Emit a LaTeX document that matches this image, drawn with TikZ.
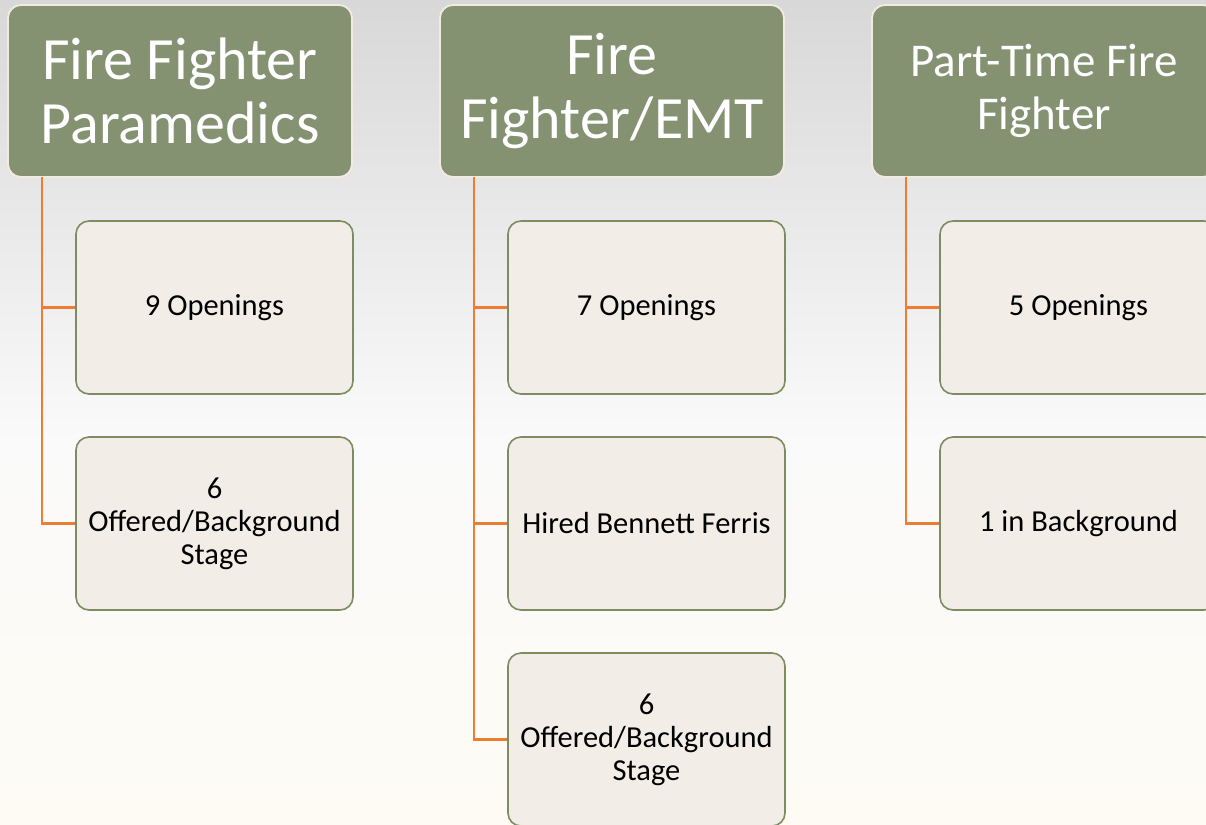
\documentclass[tikz,border=0pt]{standalone}
\usepackage{fontspec}
\setmainfont{Carlito}
\definecolor{hdrfill}{HTML}{849272}
\definecolor{hdredge}{HTML}{F2ECE0}
\definecolor{boxfill}{HTML}{F2EEE7}
\definecolor{boxedge}{HTML}{7E8C63}
\definecolor{conn}{HTML}{ED7D31}
\definecolor{bgtop}{HTML}{D8D8D8}
\definecolor{bgmid}{HTML}{FAFAFA}
\definecolor{bgbot}{HTML}{FDFBF4}
\tikzset{
  hdr/.style={draw=hdredge, line width=1.8pt, fill=hdrfill, rounded corners=13pt,
    minimum width=344pt, minimum height=172pt, inner sep=0pt, text=white,
    align=center, font=\fontsize{60}{64}\selectfont},
  hdrsmall/.style={hdr, font=\fontsize{47}{53}\selectfont},
  child/.style={draw=boxedge, line width=1.6pt, fill=boxfill, rounded corners=13pt,
    minimum width=277pt, minimum height=173pt, inner sep=0pt, text=black,
    align=center, font=\fontsize{30.5}{33}\selectfont},
  link/.style={draw=conn, line width=2.6pt}
}
\begin{document}
\begin{tikzpicture}[x=1pt,y=-1pt]
\useasboundingbox (0,0) rectangle (1206,824);
\begin{scope}
\clip (0,0) rectangle (1206,824);
\shade[top color=bgtop, bottom color=bgmid] (0,0) rectangle (1206,440);
\shade[top color=bgmid, bottom color=bgbot] (0,440) rectangle (1206,824);

% column 1
\node[hdr] (h1) at (180,91) {Fire Fighter\\Paramedics};
\node[child] (c11) at (214.5,307.5) {9 Openings};
\node[child] (c12) at (214.5,523.5) {6\\Offered/Background\\Stage};
\coordinate (t1) at (42,177);
\coordinate (k11) at (42,307.5);
\coordinate (k12) at (42,523.5);
\draw[link] (t1) -- (k12) -- (c12.west);
\draw[link] (k11) -- (c11.west);

% column 2
\node[hdr] (h2) at (612,91) {Fire\\Fighter/EMT};
\node[child] (c21) at (646.5,307.5) {7 Openings};
\node[child] (c22) at (646.5,523.5) {Hired Bennett Ferris};
\node[child] (c23) at (646.5,739.5) {6\\Offered/Background\\Stage};
\coordinate (t2) at (474,177);
\coordinate (k21) at (474,307.5);
\coordinate (k22) at (474,523.5);
\coordinate (k23) at (474,739.5);
\draw[link] (t2) -- (k23) -- (c23.west);
\draw[link] (k21) -- (c21.west);
\draw[link] (k22) -- (c22.west);

% column 3
\node[hdrsmall] (h3) at (1044,91) {Part-Time Fire\\Fighter};
\node[child] (c31) at (1078.5,307.5) {5 Openings};
\node[child] (c32) at (1078.5,523.5) {1 in Background};
\coordinate (t3) at (906,177);
\coordinate (k31) at (906,307.5);
\coordinate (k32) at (906,523.5);
\draw[link] (t3) -- (k32) -- (c32.west);
\draw[link] (k31) -- (c31.west);
\end{scope}
\end{tikzpicture}
\end{document}
